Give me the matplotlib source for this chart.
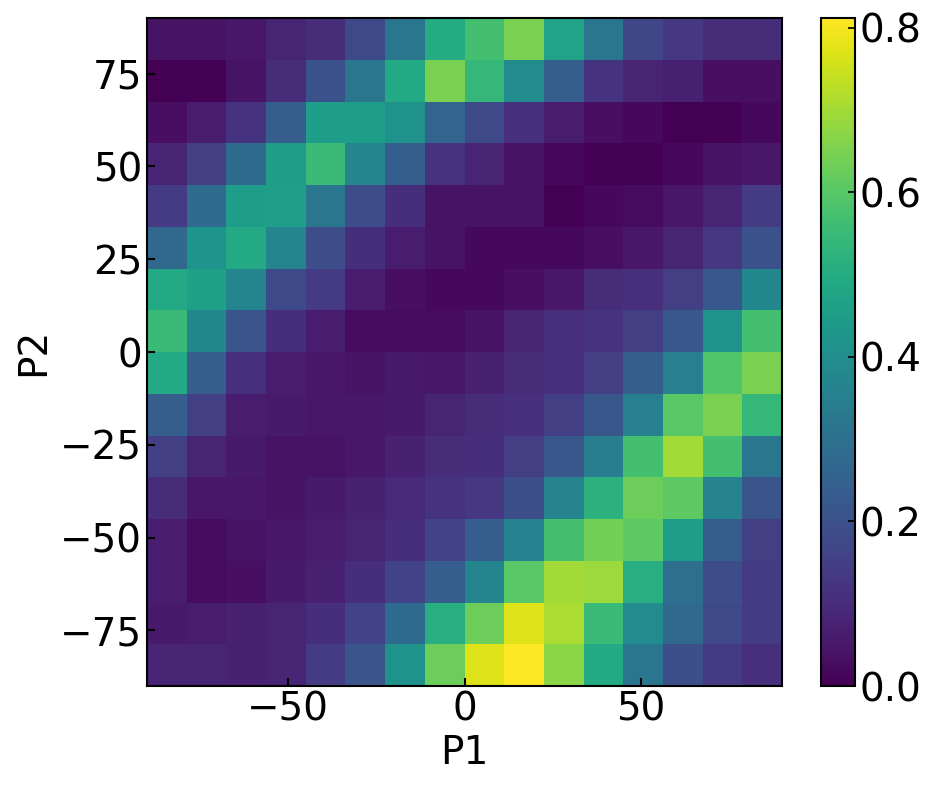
import matplotlib
matplotlib.use('Agg')
import matplotlib.pyplot as plt
import numpy as np

# bin edges for P1 / P2 (degrees)
p1_edges = np.linspace(-90, 90, 17)
p2_edges = np.linspace(-90, 90, 17)

# rows listed from top (P2 = 90) to bottom (P2 = -90)
row_00 = [0.04, 0.04, 0.05, 0.08, 0.10, 0.18, 0.32, 0.50, 0.57, 0.65, 0.47, 0.32, 0.17, 0.13, 0.10, 0.10]
row_01 = [0.00, 0.00, 0.04, 0.10, 0.20, 0.32, 0.49, 0.65, 0.54, 0.39, 0.24, 0.12, 0.08, 0.07, 0.03, 0.03]
row_02 = [0.03, 0.065, 0.12, 0.24, 0.45, 0.45, 0.41, 0.26, 0.18, 0.11, 0.065, 0.03, 0.016, 0.0, 0.0, 0.016]
row_03 = [0.08, 0.15, 0.28, 0.45, 0.55, 0.37, 0.24, 0.12, 0.08, 0.04, 0.016, 0.0, 0.0, 0.016, 0.04, 0.05]
row_04 = [0.14, 0.28, 0.45, 0.455, 0.32, 0.19, 0.105, 0.04, 0.04, 0.04, 0.0, 0.016, 0.024, 0.05, 0.08, 0.14]
row_05 = [0.27, 0.42, 0.49, 0.37, 0.19, 0.105, 0.065, 0.04, 0.016, 0.016, 0.016, 0.03, 0.05, 0.08, 0.13, 0.20]
row_06 = [0.49, 0.46, 0.37, 0.18, 0.14, 0.065, 0.03, 0.016, 0.016, 0.03, 0.05, 0.10, 0.11, 0.15, 0.22, 0.38]
row_07 = [0.55, 0.38, 0.21, 0.105, 0.065, 0.024, 0.024, 0.024, 0.04, 0.08, 0.11, 0.12, 0.15, 0.22, 0.41, 0.57]
row_08 = [0.49, 0.24, 0.11, 0.065, 0.05, 0.04, 0.057, 0.05, 0.073, 0.10, 0.11, 0.15, 0.24, 0.35, 0.59, 0.65]
row_09 = [0.24, 0.15, 0.065, 0.057, 0.05, 0.05, 0.057, 0.08, 0.10, 0.11, 0.15, 0.22, 0.35, 0.60, 0.65, 0.54]
row_10 = [0.15, 0.08, 0.057, 0.04, 0.04, 0.05, 0.073, 0.10, 0.105, 0.15, 0.22, 0.34, 0.57, 0.70, 0.57, 0.32]
row_11 = [0.10, 0.05, 0.05, 0.04, 0.057, 0.073, 0.09, 0.12, 0.13, 0.195, 0.365, 0.52, 0.63, 0.61, 0.365, 0.21]
row_12 = [0.065, 0.024, 0.04, 0.05, 0.065, 0.08, 0.105, 0.16, 0.24, 0.36, 0.57, 0.64, 0.61, 0.45, 0.24, 0.15]
row_13 = [0.065, 0.024, 0.03, 0.057, 0.073, 0.105, 0.16, 0.24, 0.37, 0.60, 0.70, 0.69, 0.51, 0.29, 0.19, 0.14]
row_14 = [0.057, 0.065, 0.073, 0.08, 0.105, 0.16, 0.28, 0.51, 0.63, 0.77, 0.71, 0.55, 0.39, 0.27, 0.18, 0.14]
row_15 = [0.08, 0.08, 0.073, 0.08, 0.14, 0.21, 0.41, 0.63, 0.77, 0.812, 0.67, 0.49, 0.32, 0.195, 0.14, 0.11]

grid = np.array([row_00, row_01, row_02, row_03, row_04, row_05, row_06, row_07,
                 row_08, row_09, row_10, row_11, row_12, row_13, row_14, row_15])
grid = grid[::-1]  # bottom row first for pcolormesh

fs = 28
fig = plt.figure(figsize=(9.36, 7.88), dpi=100)
ax = fig.add_axes([147/936, 1 - 686/788, 635/936, 668/788])
cax = fig.add_axes([821/936, 1 - 686/788, 34/936, 668/788])

mesh = ax.pcolormesh(p1_edges, p2_edges, grid, cmap='viridis', vmin=0.0, vmax=grid.max())
ax.set_xlim(-90, 90)
ax.set_ylim(-90, 90)
ax.set_xticks([-50, 0, 50])
ax.set_yticks([-75, -50, -25, 0, 25, 50, 75])
ax.tick_params(direction='in', labelsize=fs, length=6, width=1.5)
ax.set_xlabel('P1', fontsize=fs, labelpad=4)
ax.set_ylabel('P2', fontsize=fs, labelpad=6)
for s in ax.spines.values():
    s.set_linewidth(1.5)

cb = fig.colorbar(mesh, cax=cax)
cb.set_ticks([0.0, 0.2, 0.4, 0.6, 0.8])
cb.ax.tick_params(direction='in', labelsize=fs, length=5, width=1.2)
cb.outline.set_linewidth(1.5)

fig.savefig('out.png', dpi=100)
